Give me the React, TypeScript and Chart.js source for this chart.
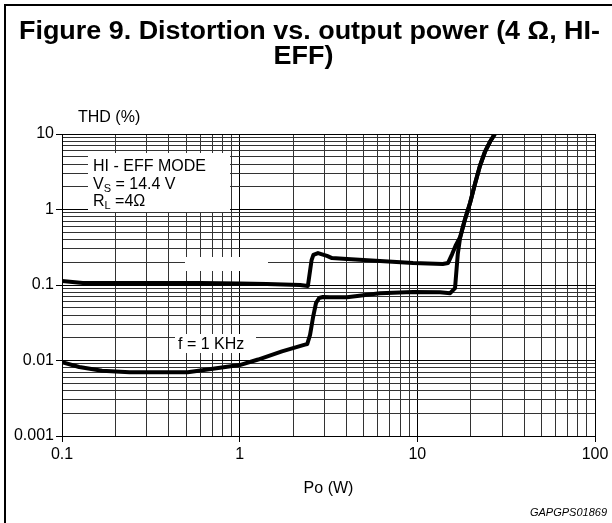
import React, { useEffect, useRef } from "react";
import { Chart, registerables } from "chart.js";

Chart.register(...registerables);

// ---- axis ticks ----
const xDecades = [0.1, 1, 10, 100];
const xDecadeLabels = ["0.1", "1", "10", "100"];
const yDecades = [0.001, 0.01, 0.1, 1, 10];
const yDecadeLabels = ["0.001", "0.01", "0.1", "1", "10"];
const minorMultipliers = [2, 3, 4, 5, 6, 7, 8, 9];

// ---- upper curve (label erased in the original) ----
const upperPo = [0.1, 0.131, 0.25, 0.6, 1.0, 1.42, 2.19, 2.42, 2.46, 2.54, 2.6, 2.76, 3.1, 3.31, 4.02, 6.16, 9.46, 13.9, 14.9, 15.7, 16.5, 17.4, 18.5, 19.8, 21.1, 22.5, 24.0, 25.6, 27.7];
const upperThd = [0.113, 0.106, 0.106, 0.106, 0.105, 0.103, 0.1, 0.097, 0.127, 0.214, 0.25, 0.265, 0.243, 0.227, 0.221, 0.208, 0.196, 0.19, 0.196, 0.257, 0.34, 0.43, 0.726, 1.22, 2.18, 3.77, 5.78, 7.83, 10.6];

// ---- lower curve: f = 1 KHz ----
const lowerPo = [0.1, 0.125, 0.168, 0.24, 0.51, 0.69, 1.0, 1.27, 1.73, 2.33, 2.4, 2.49, 2.59, 2.69, 2.8, 2.94, 3.22, 4.02, 6.16, 9.46, 13.4, 15.3, 16.3, 16.9, 17.4, 18.5, 19.8, 21.1, 22.5, 24.0, 25.6, 27.7];
const lowerThd = [0.0095, 0.0082, 0.0073, 0.007, 0.007, 0.0077, 0.0087, 0.0103, 0.0132, 0.0162, 0.0165, 0.0218, 0.0377, 0.0578, 0.0673, 0.0693, 0.069, 0.069, 0.078, 0.081, 0.08, 0.078, 0.091, 0.26, 0.42, 0.726, 1.22, 2.18, 3.77, 5.78, 7.83, 10.6];

const FONT = '"Liberation Sans", Arial, Helvetica, sans-serif';

function buildTicks(decades: number[]) {
  const out: number[] = [];
  decades.forEach((d, i) => {
    out.push(d);
    if (i < decades.length - 1) minorMultipliers.forEach((m) => out.push(Number((d * m).toPrecision(4))));
  });
  return out;
}
const xTicks = buildTicks(xDecades);
const yTicks = buildTicks(yDecades);

function decadeIndex(v: number, decades: number[]) {
  return decades.findIndex((d) => Math.abs(v - d) / d < 1e-6);
}

const overlay = {
  id: "overlay",
  beforeDatasetsDraw(chart: any) {
    const ctx = chart.ctx as CanvasRenderingContext2D;
    ctx.save();
    ctx.fillStyle = "#fff";
    ctx.fillRect(88, 153, 142, 59); // condition box
    ctx.fillRect(185, 257, 83, 14); // blank (erased label)
    ctx.fillRect(175, 334, 81, 19); // f = 1 KHz label
    ctx.fillStyle = "#000";
    ctx.textAlign = "left";
    ctx.textBaseline = "alphabetic";
    ctx.font = `16px ${FONT}`;
    ctx.fillText("HI - EFF MODE", 93, 171);
    // V_S = 14.4 V
    let x = 93;
    ctx.fillText("V", x, 188.5);
    x += ctx.measureText("V").width;
    ctx.font = `11px ${FONT}`;
    ctx.fillText("S", x, 191.5);
    x += ctx.measureText("S").width;
    ctx.font = `16px ${FONT}`;
    ctx.fillText(" = 14.4 V", x, 188.5);
    // R_L = 4 Ω
    x = 93;
    ctx.fillText("R", x, 206);
    x += ctx.measureText("R").width;
    ctx.font = `11px ${FONT}`;
    ctx.fillText("L", x, 209);
    x += ctx.measureText("L").width;
    ctx.font = `16px ${FONT}`;
    ctx.fillText(" =4\u03A9", x, 206);
    ctx.fillText("f = 1 KHz", 178, 349);
    ctx.restore();
  },
  afterDraw(chart: any) {
    const ctx = chart.ctx as CanvasRenderingContext2D;
    const ca = chart.chartArea;
    ctx.save();
    ctx.fillStyle = "#000";
    // frame
    ctx.fillRect(4, 4, 2, 523);
    ctx.fillRect(4, 4, 612, 2);
    // title
    ctx.font = `bold 25px ${FONT}`;
    ctx.textAlign = "center";
    ctx.textBaseline = "alphabetic";
    const line1 = "Figure 9. Distortion vs. output power (4 \u03A9, HI-";
    const line2 = "EFF)";
    const sx = 581 / ctx.measureText(line1).width;
    ctx.save();
    ctx.translate(309.5, 39);
    ctx.scale(sx, 1);
    ctx.fillText(line1, 0, 0);
    ctx.restore();
    ctx.save();
    ctx.translate(303.5, 64);
    ctx.scale(sx, 1);
    ctx.fillText(line2, 0, 0);
    ctx.restore();
    // axis titles
    ctx.font = `16px ${FONT}`;
    ctx.textAlign = "left";
    ctx.fillText("THD (%)", 78, 122);
    ctx.textAlign = "center";
    ctx.fillText("Po (W)", (ca.left + ca.right) / 2, 493);
    ctx.font = `italic 11px ${FONT}`;
    ctx.textAlign = "right";
    ctx.fillText("GAPGPS01869", 607, 516);
    ctx.restore();
  },
};

export default function App() {
  const ref = useRef<HTMLCanvasElement>(null);
  useEffect(() => {
    const canvas = ref.current!;
    const lineStyle = {
      borderColor: "#000",
      backgroundColor: "#000",
      borderWidth: 4,
      pointRadius: 0,
      tension: 0,
      borderJoinStyle: "round" as const,
      borderCapStyle: "round" as const,
      fill: false,
    };
    const chart = new Chart(canvas, {
      type: "line",
      data: {
        datasets: [
          { label: "f = 10 KHz", data: upperPo.map((p, i) => ({ x: p, y: upperThd[i] })), ...lineStyle },
          { label: "f = 1 KHz", data: lowerPo.map((p, i) => ({ x: p, y: lowerThd[i] })), ...lineStyle },
        ],
      },
      options: {
        responsive: false,
        animation: false,
        devicePixelRatio: 1,
        layout: { padding: { top: 134, left: 0, right: 17, bottom: 0 } },
        plugins: { legend: { display: false }, tooltip: { enabled: false }, title: { display: false } },
        scales: {
          x: {
            type: "logarithmic",
            min: 0.1,
            max: 100,
            afterBuildTicks: (s: any) => {
              s.ticks = xTicks.map((v) => ({ value: v }));
            },
            afterFit: (s: any) => {
              s.height = 87;
            },
            ticks: {
              autoSkip: false,
              maxRotation: 0,
              padding: 3,
              color: "#000",
              font: { family: FONT, size: 16 },
              callback: (v: any) => {
                const i = decadeIndex(Number(v), xDecades);
                return i >= 0 ? xDecadeLabels[i] : "";
              },
            },
            grid: {
              color: (c: any) => (decadeIndex(c.tick?.value, xDecades) >= 0 ? "#000" : "#333"),
              lineWidth: 1,
              tickLength: 6,
              tickColor: (c: any) => (decadeIndex(c.tick?.value, xDecades) >= 0 ? "#000" : "rgba(0,0,0,0)"),
            },
            border: { display: true, color: "#000", width: 1 },
          },
          y: {
            type: "logarithmic",
            min: 0.001,
            max: 10,
            afterBuildTicks: (s: any) => {
              s.ticks = yTicks.map((v) => ({ value: v }));
            },
            afterFit: (s: any) => {
              s.width = 62;
            },
            ticks: {
              autoSkip: false,
              padding: 2,
              color: "#000",
              font: { family: FONT, size: 16 },
              callback: (v: any) => {
                const i = decadeIndex(Number(v), yDecades);
                return i >= 0 ? yDecadeLabels[i] : "";
              },
            },
            grid: {
              color: (c: any) => (decadeIndex(c.tick?.value, yDecades) >= 0 ? "#000" : "#333"),
              lineWidth: 1,
              tickLength: 6,
              tickColor: (c: any) => (decadeIndex(c.tick?.value, yDecades) >= 0 ? "#000" : "rgba(0,0,0,0)"),
            },
            border: { display: true, color: "#000", width: 1 },
          },
        },
      } as any,
      plugins: [overlay],
    });
    return () => chart.destroy();
  }, []);
  return (
    <div style={{ position: "absolute", left: 0, top: 0, width: 612, height: 523, background: "#fff", overflow: "hidden" }}>
      <canvas ref={ref} width={612} height={523} style={{ display: "block" }} />
    </div>
  );
}
